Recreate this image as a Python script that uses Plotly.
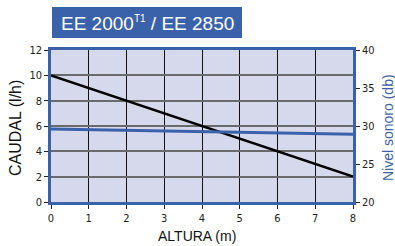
import plotly.graph_objects as go

altura = [0, 8]
caudal = [10, 2]
ruido = [29.6, 28.9]

x_ticks = [0, 1, 2, 3, 4, 5, 6, 7, 8]
y_ticks = [0, 2, 4, 6, 8, 10, 12]
y2_ticks = [20, 25, 30, 35, 40]

BLUE = "#3a62ab"
W, H = 395, 246
ML, MR, MT, MB = 51, 42, 50, 44
PW, PH = W - ML - MR, H - MT - MB

def px(x):
    return (x - ML) / PW

def py(y):
    return (H - MB - y) / PH

fig = go.Figure()
fig.add_trace(go.Scatter(x=altura, y=caudal, mode="lines",
                         line=dict(color="black", width=2.5), showlegend=False))
fig.add_trace(go.Scatter(x=altura, y=ruido, mode="lines", yaxis="y2",
                         line=dict(color=BLUE, width=3), showlegend=False))

NARROW = "DejaVu Sans Condensed, Liberation Sans Narrow, Arial Narrow, Liberation Sans, sans-serif"
SANS = "Liberation Sans, Arial, sans-serif"
tickfont = dict(family=NARROW, size=11, color="#222")

fig.update_layout(
    width=W, height=H,
    margin=dict(l=ML, r=MR, t=MT, b=MB),
    paper_bgcolor="white",
    plot_bgcolor="#d6d9ec",
    xaxis=dict(range=[0, 8], tickvals=x_ticks, showgrid=True, gridcolor="#111",
               gridwidth=1, zeroline=False, ticks="outside", ticklen=4,
               tickcolor="#222", tickfont=tickfont, automargin=False,
               showline=True, linecolor=BLUE, linewidth=2.5, mirror=True),
    yaxis=dict(range=[0, 12], tickvals=y_ticks, showgrid=True, gridcolor="#6a6a6a",
               gridwidth=1.5, zeroline=False, ticks="outside", ticklen=4,
               tickcolor="#222", tickfont=tickfont, automargin=False,
               showline=True, linecolor=BLUE, linewidth=2.5),
    yaxis2=dict(range=[20, 40], tickvals=y2_ticks, overlaying="y", side="right",
                showgrid=False, zeroline=False, ticks="outside", ticklen=4,
                tickcolor="#222", tickfont=tickfont, automargin=False,
                showline=True, linecolor=BLUE, linewidth=2.5),
    shapes=[dict(type="rect", xref="paper", yref="paper",
                 x0=px(52), x1=px(242), y0=py(38), y1=py(7),
                 fillcolor=BLUE, line=dict(width=0), layer="above")],
    annotations=[
        dict(xref="paper", yref="paper", x=px(147), y=py(23),
             text="EE 2000<sup><span style='font-size:10px'>T1</span></sup> / EE 2850",
             showarrow=False, xanchor="center", yanchor="middle",
             font=dict(family=SANS, size=19, color="white")),
        dict(xref="paper", yref="paper", x=px(16), y=py(128),
             text="CAUDAL (l/h)", showarrow=False, textangle=-90,
             xanchor="center", yanchor="middle",
             font=dict(family=SANS, size=16, color="#111")),
        dict(xref="paper", yref="paper", x=px(388), y=py(128),
             text="Nivel sonoro (db)", showarrow=False, textangle=-90,
             xanchor="center", yanchor="middle",
             font=dict(family=SANS, size=14, color=BLUE)),
        dict(xref="paper", yref="paper", x=px(197), y=py(236),
             text="ALTURA (m)", showarrow=False,
             xanchor="center", yanchor="middle",
             font=dict(family=SANS, size=14, color="#111")),
    ],
)

fig.write_html("out.html", config={"displayModeBar": False},
               post_script="document.body.style.margin='0';document.body.style.overflow='hidden';")
